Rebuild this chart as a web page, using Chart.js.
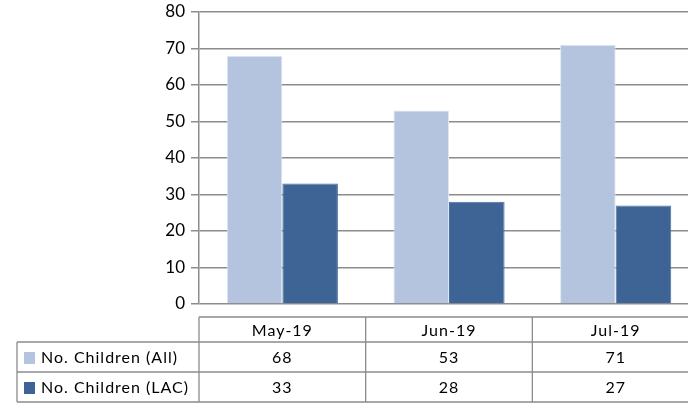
<!DOCTYPE html>
<html>
<head>
<meta charset="utf-8">
<script src="https://cdn.jsdelivr.net/npm/chart.js@4/dist/chart.umd.min.js"></script>
<style>
  html, body { margin: 0; padding: 0; background: #fff; overflow: hidden; }
  #wrap { width: 700px; height: 404px; }
</style>
</head>
<body>
<div id="wrap"><canvas id="chart" width="700" height="404"></canvas></div>
<script>
// Data
const months = ["May-19", "Jun-19", "Jul-19"];
const seriesNames = ["No. Children (All)", "No. Children (LAC)"];
const childrenAll = [68, 53, 71];
const childrenLAC = [33, 28, 27];
const yTicks = [0, 10, 20, 30, 40, 50, 60, 70, 80];

const colAll = "#b4c3de";
const colLAC = "#3e6496";
const lineGrey = "#8c8c8c";
const FONT = "Lato, 'Open Sans', sans-serif";

// ===== Data table under the plot (Excel style) =====
const dataTable = {
  id: "dataTable",
  afterDraw(chart) {
    const ctx = chart.ctx;
    const x = chart.scales.x;
    const area = chart.chartArea;
    const colW = (area.right - area.left) / months.length;
    const left = area.left, right = area.right;
    const legLeft = 17;
    const rowsY = [317, 342, 372, 402];
    const swatches = [colAll, colLAC];
    const rows = [childrenAll, childrenLAC];

    ctx.save();
    ctx.strokeStyle = lineGrey;
    ctx.lineWidth = 1.3;
    ctx.beginPath();
    ctx.moveTo(left, rowsY[0]); ctx.lineTo(right, rowsY[0]);
    for (let r = 1; r < rowsY.length; r++) {
      ctx.moveTo(legLeft, rowsY[r]); ctx.lineTo(right, rowsY[r]);
    }
    for (let c = 0; c <= months.length; c++) {
      const cx = left + c * colW;
      ctx.moveTo(cx, rowsY[0]); ctx.lineTo(cx, rowsY[3]);
    }
    ctx.moveTo(legLeft, rowsY[1]); ctx.lineTo(legLeft, rowsY[3]);
    ctx.stroke();

    ctx.fillStyle = "#000";
    ctx.font = "16px " + FONT;
    ctx.textBaseline = "middle";
    ctx.textAlign = "center";
    ctx.letterSpacing = "1px";
    months.forEach((m, i) => {
      ctx.fillText(m, x.getPixelForValue(i), (rowsY[0] + rowsY[1]) / 2 + 1);
    });
    rows.forEach((vals, r) => {
      const cy = (rowsY[r + 1] + rowsY[r + 2]) / 2 + 1;
      vals.forEach((v, i) => ctx.fillText(String(v), x.getPixelForValue(i), cy));
      ctx.fillStyle = swatches[r];
      ctx.fillRect(24, cy - 6, 11, 12);
      ctx.fillStyle = "#000";
      ctx.textAlign = "left";
      ctx.fillText(seriesNames[r], 41, cy);
      ctx.textAlign = "center";
    });
    ctx.restore();
  }
};

new Chart(document.getElementById("chart"), {
  type: "bar",
  data: {
    labels: months,
    datasets: [
      { label: seriesNames[0], data: childrenAll, backgroundColor: colAll, borderColor: "#dfe6f2", borderWidth: 1 },
      { label: seriesNames[1], data: childrenLAC, backgroundColor: colLAC, borderColor: "#4a70a2", borderWidth: 1 }
    ]
  },
  options: {
    responsive: false,
    animation: false,
    layout: { padding: { left: 0, right: 1, top: 12, bottom: 100 } },
    datasets: { bar: { categoryPercentage: 0.667, barPercentage: 1.0 } },
    plugins: { legend: { display: false }, tooltip: { enabled: false } },
    scales: {
      x: { display: false },
      y: {
        min: 0, max: 80,
        afterFit(scale) { scale.width = 199; scale.paddingTop = 0; scale.paddingBottom = 0; },
        afterBuildTicks(scale) { scale.ticks = yTicks.map(v => ({ value: v })); },
        ticks: { color: "#000", padding: 6, font: { family: FONT, size: 17, lineHeight: 1 } },
        grid: { color: lineGrey, lineWidth: 1.5, tickLength: 8 },
        border: { color: lineGrey, width: 1.5 }
      }
    }
  },
  plugins: [dataTable]
});
</script>
</body>
</html>
